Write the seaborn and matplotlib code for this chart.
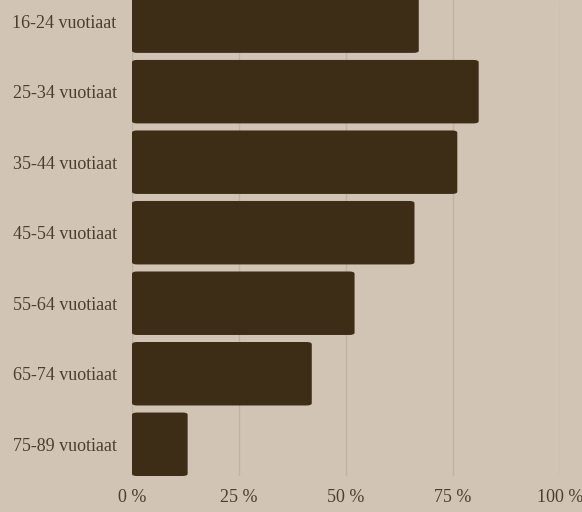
import matplotlib
matplotlib.use("Agg")
import matplotlib.pyplot as plt
import seaborn as sns
import pandas as pd
from matplotlib.patches import FancyBboxPatch

categories = ["16-24 vuotiaat", "25-34 vuotiaat", "35-44 vuotiaat", "45-54 vuotiaat",
              "55-64 vuotiaat", "65-74 vuotiaat", "75-89 vuotiaat"]
values = [67, 81, 76, 66, 52, 42, 13]
xticks = [0, 25, 50, 75, 100]
xticklabels = ["0 %", "25 %", "50 %", "75 %", "100 %"]

BG = "#d1c4b4"
BAR = "#3d2c16"
TXT = "#4a3e33"
GRID = "#c0b3a3"

sns.set_theme(style="white")
plt.rcParams["font.family"] = ["Liberation Serif", "DejaVu Serif"]

df = pd.DataFrame({"cat": categories, "val": values})

fig = plt.figure(figsize=(5.82, 5.12), dpi=100, facecolor=BG)
ax = fig.add_axes([132 / 582, 36 / 512, (560 - 132) / 582, 476 / 512])
ax.set_facecolor(BG)

sns.barplot(data=df, x="val", y="cat", color=BAR, width=0.9, ax=ax, saturation=1)

# replace bars by slightly rounded versions of the same geometry
for p in list(ax.patches):
    x, y = p.get_x(), p.get_y()
    w, h = p.get_width(), p.get_height()
    p.set_visible(False)
    ax.add_patch(FancyBboxPatch((x, y), w, h,
                                boxstyle="round,pad=0,rounding_size=1.2",
                                mutation_aspect=0.04 / 1.5,
                                facecolor=BAR, edgecolor="none", zorder=3))

ax.set_xlim(0, 100)
ax.set_ylim(6.45, -0.3)
ax.set_xticks(xticks)
ax.set_xticklabels(xticklabels)
ax.grid(axis="x", color=GRID, linewidth=1, zorder=0)
ax.set_axisbelow(True)
for s in ax.spines.values():
    s.set_visible(False)
ax.set_xlabel("")
ax.set_ylabel("")
ax.tick_params(axis="both", length=0, labelsize=13, colors=TXT)
ax.tick_params(axis="x", pad=9)
ax.tick_params(axis="y", pad=11)

fig.savefig("out.png", dpi=100, facecolor=BG)
